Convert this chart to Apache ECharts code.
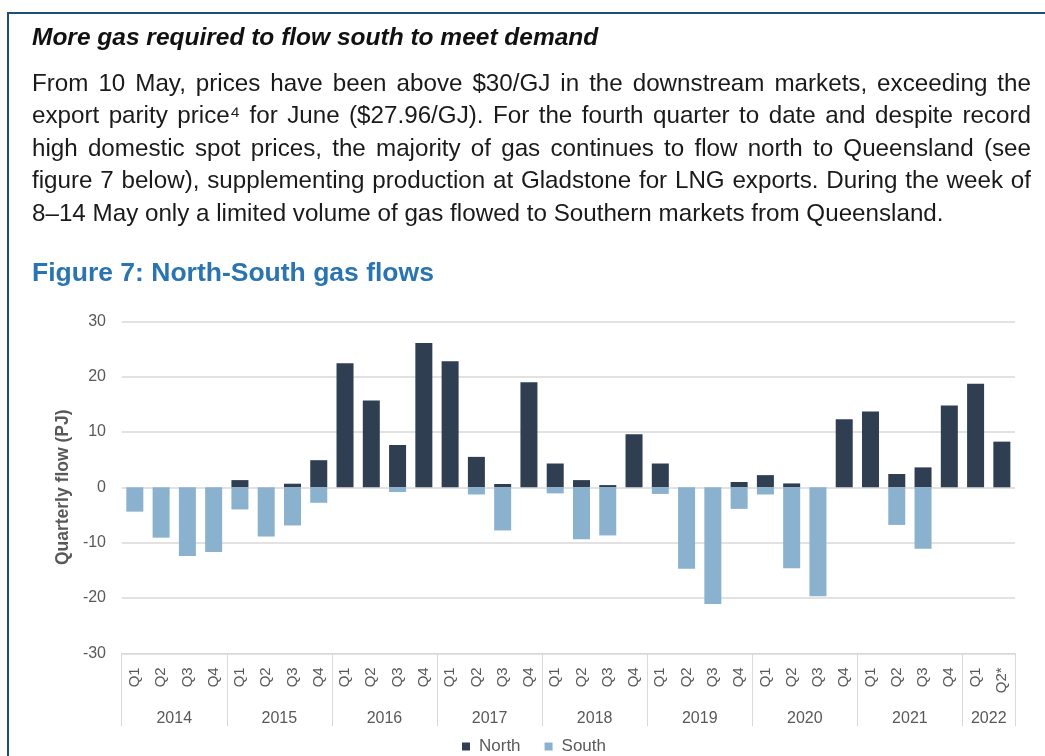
<!DOCTYPE html>
<html>
<head>
<meta charset="utf-8">
<script src="https://cdn.jsdelivr.net/npm/echarts@6/dist/echarts.min.js"></script>
<style>
  html, body { margin: 0; padding: 0; background: #fff; }
  body { width: 1045px; height: 756px; position: relative; overflow: hidden; font-family: "Liberation Sans", Arial, sans-serif; }
  #frame { position: absolute; left: 7px; top: 12px; width: 1200px; height: 900px; border: 2px solid #1F4E79; box-sizing: border-box; }
  #chart { position: absolute; left: 0; top: 0; width: 1045px; height: 756px; }
  #heading { position: absolute; left: 32px; top: 22.5px; font-size: 24.5px; line-height: 28px; font-weight: bold; font-style: italic; color: #111; white-space: nowrap; }
  #para { position: absolute; left: 32px; top: 67px; width: 999px; font-size: 24.2px; line-height: 32.4px; color: #1a1a1a; }
  #para div { text-align: justify; text-align-last: justify; white-space: nowrap; }
  #para div.last { text-align-last: left; }
</style>
</head>
<body>
<div id="frame"></div>
<div id="chart"></div>
<div id="heading">More gas required to flow south to meet demand</div>
<div id="para">
  <div>From 10 May, prices have been above $30/GJ in the downstream markets, exceeding the</div>
  <div>export parity price⁴ for June ($27.96/GJ). For the fourth quarter to date and despite record</div>
  <div>high domestic spot prices, the majority of gas continues to flow north to Queensland (see</div>
  <div>figure 7 below), supplementing production at Gladstone for LNG exports. During the week of</div>
  <div class="last">8–14 May only a limited volume of gas flowed to Southern markets from Queensland.</div>
</div>
<script>
const categories = [
  '2014 Q1','2014 Q2','2014 Q3','2014 Q4',
  '2015 Q1','2015 Q2','2015 Q3','2015 Q4',
  '2016 Q1','2016 Q2','2016 Q3','2016 Q4',
  '2017 Q1','2017 Q2','2017 Q3','2017 Q4',
  '2018 Q1','2018 Q2','2018 Q3','2018 Q4',
  '2019 Q1','2019 Q2','2019 Q3','2019 Q4',
  '2020 Q1','2020 Q2','2020 Q3','2020 Q4',
  '2021 Q1','2021 Q2','2021 Q3','2021 Q4',
  '2022 Q1','2022 Q2*'
];
const north = [
  0, 0, 0, 0,
  1.3, 0, 0.65, 4.9,
  22.4, 15.7, 7.65, 26.1,
  22.8, 5.5, 0.6, 19.0,
  4.3, 1.3, 0.4, 9.6,
  4.3, 0, 0, 0.96,
  2.2, 0.7, 0, 12.3,
  13.7, 2.4, 3.6, 14.8,
  18.7, 8.25
];
const south = [
  -4.4, -9.1, -12.4, -11.7,
  -4.0, -8.9, -6.9, -2.8,
  0, 0, -0.85, 0,
  0, -1.3, -7.8, 0,
  -1.1, -9.4, -8.7, 0,
  -1.2, -14.7, -21.1, -3.9,
  -1.3, -14.65, -19.7, 0,
  0, -6.8, -11.1, 0,
  0, 0
];
const yTicks = { min: -30, max: 30, interval: 10 };

const FONT = '"Liberation Sans", Arial, sans-serif';
const GRAY = '#595959';
const LINE = '#D9D9D9';

const chart = echarts.init(document.getElementById('chart'), null, { renderer: 'canvas' });
chart.setOption({
  animation: false,
  backgroundColor: 'transparent',
  textStyle: { fontFamily: FONT },
  title: {
    text: 'Figure 7: North-South gas flows',
    left: 32, top: 260.5, padding: 0,
    textStyle: { fontFamily: FONT, fontSize: 26.5, fontWeight: 'bold', color: '#2A74B1' }
  },
  legend: {
    data: ['North', 'South'],
    left: 457, top: 733,
    icon: 'rect', itemWidth: 8, itemHeight: 8, itemGap: 24,
    textStyle: { fontFamily: FONT, fontSize: 17, color: GRAY, padding: [0, 0, 0, 4] }
  },
  grid: { left: 121.7, right: 30, top: 321.3, bottom: 102.7, containLabel: false, outerBoundsMode: 'none' },
  xAxis: [
    {
      type: 'category', data: categories, position: 'bottom',
      axisLine: { show: true, onZero: false, lineStyle: { color: LINE, width: 1 } },
      axisTick: { show: false },
      axisLabel: {
        interval: 0, rotate: 90, margin: 14,
        fontFamily: FONT, fontSize: 15, color: GRAY,
        formatter: v => v.split(' ')[1]
      }
    },
    {
      type: 'category', data: categories, position: 'bottom',
      axisLine: { show: false, onZero: false },
      axisTick: { show: true, length: 73, interval: (i) => i % 4 === 0, lineStyle: { color: LINE, width: 1 } },
      axisLabel: {
        interval: (i) => (i % 4 === 1 && i < 32) || i === 32,
        margin: 57, align: 'center', padding: [0, 0, 0, 26.3],
        fontFamily: FONT, fontSize: 16, color: GRAY,
        formatter: v => v.split(' ')[0]
      },
      splitLine: { show: false }
    }
  ],
  yAxis: {
    type: 'value', min: yTicks.min, max: yTicks.max, interval: yTicks.interval,
    name: 'Quarterly flow (PJ)', nameLocation: 'middle', nameGap: 48,
    nameTextStyle: { fontFamily: FONT, fontSize: 17.5, fontWeight: 'bold', color: GRAY },
    axisLine: { show: false }, axisTick: { show: false },
    axisLabel: { margin: 15.7, fontFamily: FONT, fontSize: 16, color: GRAY },
    splitLine: { lineStyle: { color: LINE, width: 1.5 } }
  },
  series: [
    { name: 'North', type: 'bar', data: north, barWidth: 17, barGap: '-100%', itemStyle: { color: '#2F3E50' } },
    { name: 'South', type: 'bar', data: south, barWidth: 17, barGap: '-100%', itemStyle: { color: '#8AB1CE' } }
  ]
});
</script>
</body>
</html>
